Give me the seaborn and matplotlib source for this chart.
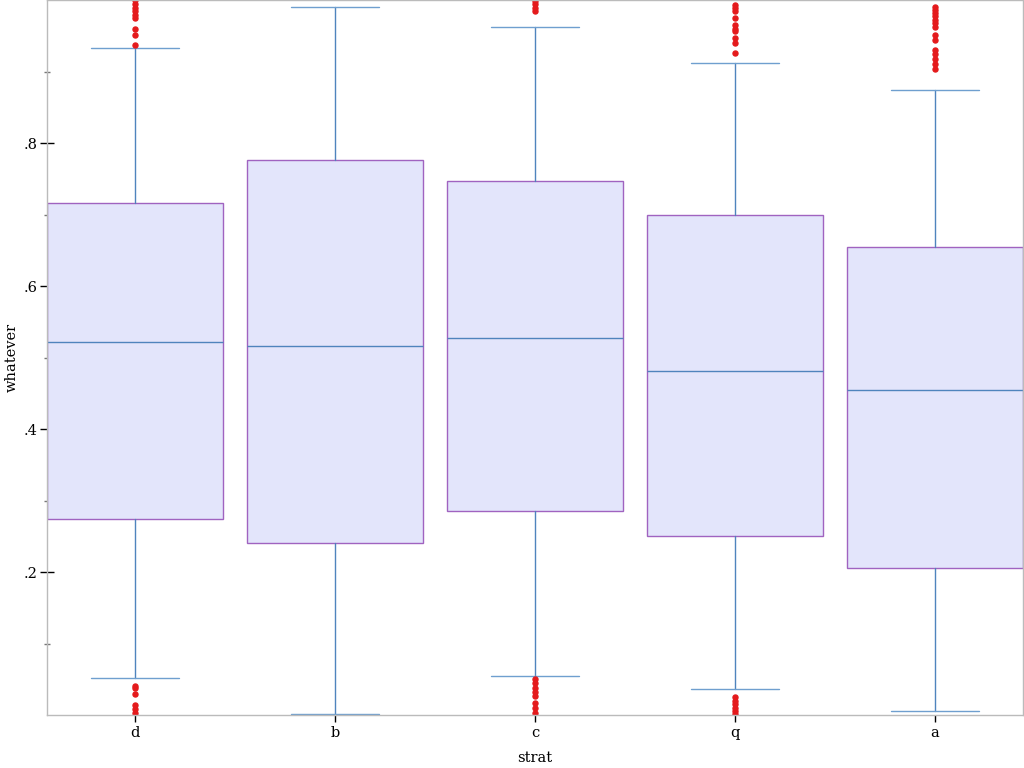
import matplotlib
matplotlib.use('Agg')
import matplotlib.pyplot as plt
import seaborn as sns
from matplotlib.ticker import FixedLocator, FuncFormatter

# box statistics
strats = ['d', 'b', 'c', 'q', 'a']
medians = [0.522, 0.516, 0.528, 0.482, 0.455]
q1s = [0.274, 0.240, 0.285, 0.250, 0.206]
q3s = [0.716, 0.777, 0.747, 0.700, 0.655]
whis_lo = [0.052, 0.002, 0.055, 0.036, 0.006]
whis_hi = [0.934, 0.991, 0.963, 0.913, 0.875]
outliers = [
    [1.0, 0.995, 0.99, 0.985, 0.98, 0.976, 0.96, 0.952, 0.938,
     0.040, 0.038, 0.030, 0.014, 0.008, 0.003],
    [],
    [0.999, 0.995, 0.99, 0.985,
     0.050, 0.045, 0.038, 0.032, 0.026, 0.017, 0.010, 0.003],
    [0.994, 0.99, 0.985, 0.976, 0.966, 0.96, 0.957, 0.948, 0.94, 0.927,
     0.025, 0.020, 0.015, 0.010, 0.005, 0.001],
    [0.991, 0.987, 0.983, 0.978, 0.972, 0.968, 0.963, 0.952, 0.945,
     0.931, 0.925, 0.918, 0.911, 0.904],
]
y_ticks = [0.2, 0.4, 0.6, 0.8]
y_minor = [0.1, 0.3, 0.5, 0.7, 0.9]

sns.set_style('white')
plt.rcParams['font.family'] = ['DejaVu Serif']
plt.rcParams['text.color'] = 'black'
plt.rcParams['axes.labelcolor'] = 'black'
plt.rcParams['xtick.labelcolor'] = 'black'
plt.rcParams['ytick.labelcolor'] = 'black'

stats = []
for i, s in enumerate(strats):
    stats.append({'label': s, 'med': medians[i], 'q1': q1s[i], 'q3': q3s[i],
                  'whislo': whis_lo[i], 'whishi': whis_hi[i],
                  'fliers': outliers[i]})

fig = plt.figure(figsize=(10.24, 7.68), dpi=100)
ax = fig.add_axes([0.046, 0.069, 0.953, 0.9305])

ax.bxp(stats, positions=range(len(strats)), widths=0.88, patch_artist=True,
       boxprops=dict(facecolor='#e3e5fb', edgecolor='#a063c0', linewidth=1),
       medianprops=dict(color='#4f84bd', linewidth=1),
       whiskerprops=dict(color='#4f84bd', linewidth=1),
       capprops=dict(color='#6f9fcf', linewidth=1),
       flierprops=dict(marker='o', markersize=3.6, markerfacecolor='#e41a1c',
                       markeredgecolor='#e41a1c'))

ax.set_xlim(-0.44, 4.44)
ax.set_ylim(0, 1.0)
ax.set_yticks(y_ticks)
ax.yaxis.set_minor_locator(FixedLocator(y_minor))
ax.yaxis.set_major_formatter(FuncFormatter(lambda v, p: ('%.1f' % v).lstrip('0')))
ax.set_xticks(range(len(strats)))
ax.set_xticklabels(strats)

for sp in ax.spines.values():
    sp.set_color('#bbbbbb')
    sp.set_linewidth(1)

ax.tick_params(axis='y', which='major', direction='inout', length=10, width=1,
               color='black', labelsize=10.5, left=True, pad=2)
ax.tick_params(axis='y', which='minor', direction='inout', length=5, width=1,
               color='#777777', left=True)
ax.tick_params(axis='x', direction='out', length=5, width=1, color='black',
               labelsize=10.5, bottom=True, pad=3)

ax.set_xlabel('strat', fontsize=10.5, labelpad=8)
ax.set_ylabel('whatever', fontsize=10.5, labelpad=3)

fig.savefig('out.png', dpi=100)
